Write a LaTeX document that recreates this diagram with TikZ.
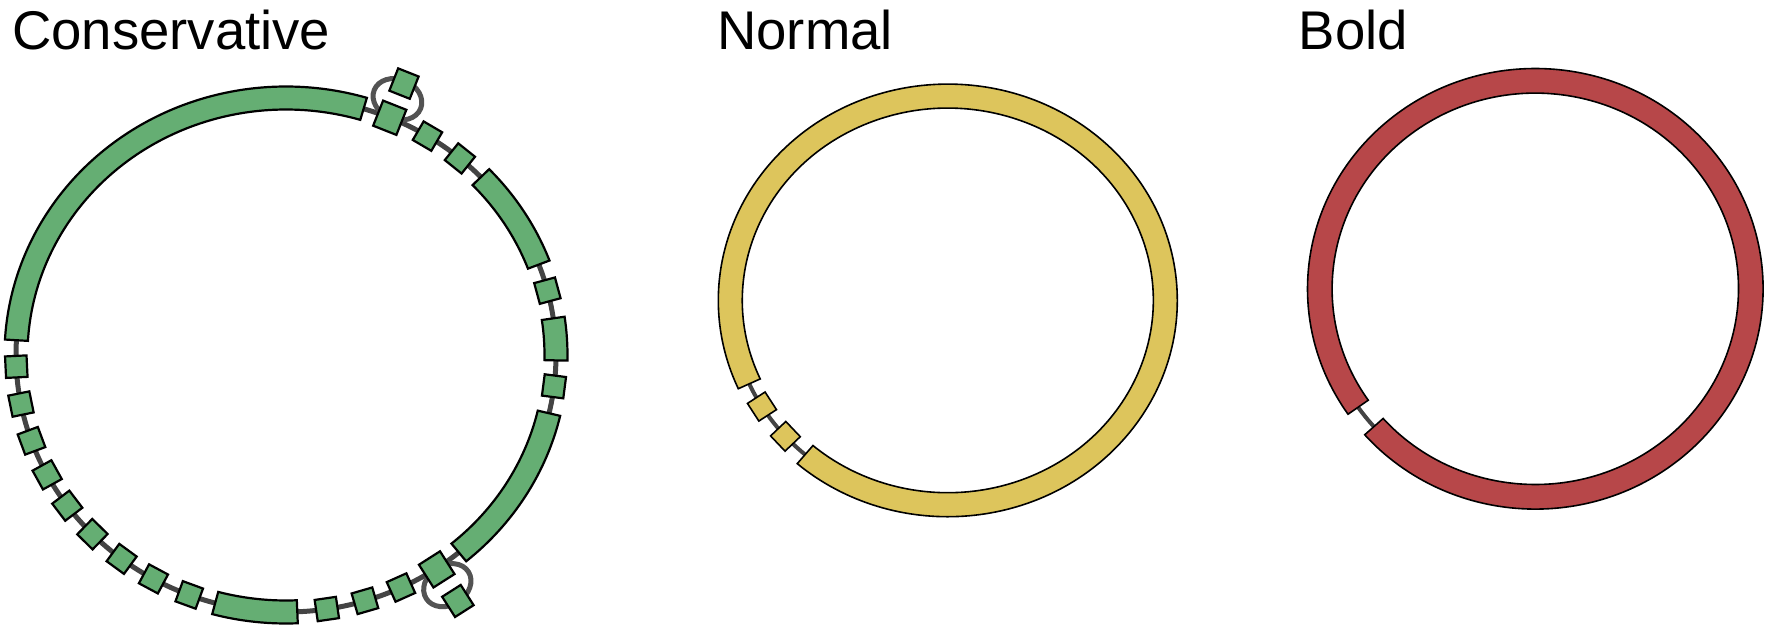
\documentclass[tikz,border=0pt]{standalone}
\usepackage{fontspec}
\setmainfont{Liberation Sans}
\usetikzlibrary{calc,shapes.geometric}
\definecolor{cgreen}{RGB}{101,174,115}
\definecolor{cyellow}{RGB}{221,197,92}
\definecolor{cred}{RGB}{183,71,73}
\definecolor{bbgray}{RGB}{68,68,68}
\tikzset{
  backbone/.style={draw=bbgray, line width=5pt},
  thinbackbone/.style={draw=bbgray, line width=4pt},
  loopline/.style={draw=bbgray!92!white, line width=5pt, ellipse, inner sep=0pt, minimum width=50pt, minimum height=40pt},
  gbox/.style={draw=black, line width=2.2pt, fill=cgreen, rectangle, inner sep=0pt, minimum width=21.5pt, minimum height=21.5pt},
  gboxL/.style={gbox, minimum width=25pt, minimum height=27pt},
  gboxO/.style={gbox, minimum width=22pt, minimum height=24pt},
  ybox/.style={draw=black, line width=1.6pt, fill=cyellow, rectangle, inner sep=0pt, minimum width=21pt, minimum height=21pt},
  gseg/.style={draw=black, line width=2.2pt, fill=cgreen},
  yseg/.style={draw=black, line width=1.6pt, fill=cyellow},
  rseg/.style={draw=black, line width=1.6pt, fill=cred},
  ttl/.style={anchor=base west, inner sep=0pt, font=\fontsize{54.5}{62}\selectfont},
}
% band segment: center, a, b, t1, t2, style, half thickness
\newcommand\band[7]{%
  \pgfmathsetmacro\myao{#2+#7}\pgfmathsetmacro\mybo{#3+#7}%
  \pgfmathsetmacro\myai{#2-#7}\pgfmathsetmacro\mybi{#3-#7}%
  \draw[#6] ($(#1)+(#4:\myao pt and \mybo pt)$)
    arc[start angle=#4, end angle=#5, x radius=\myao pt, y radius=\mybo pt]
    -- ($(#1)+(#5:\myai pt and \mybi pt)$)
    arc[start angle=#5, end angle=#4, x radius=\myai pt, y radius=\mybi pt] -- cycle;}
% box on ring: name, center, a, b, t, style, radial offset
\newcommand\ringbox[7]{%
  \pgfmathsetmacro\myrot{atan2((#4)*cos(#5), -(#3)*sin(#5))}%
  \pgfmathsetmacro\myra{#3+#7}\pgfmathsetmacro\myrb{#4+#7}%
  \node[#6, rotate=\myrot] (#1) at ($(#2)+(#5:\myra pt and \myrb pt)$) {};}
\begin{document}
\begin{tikzpicture}[x=1pt, y=1pt]
\useasboundingbox (0,0) rectangle (1769,-634);

% ---------- titles ----------
\node[ttl] (tC) at (12,-49) {Conservative};
\node[ttl] (tN) at (717,-49) {Normal};
\node[ttl] (tB) at (1298.5,-49) {Bold};

% ---------- Conservative ----------
\coordinate (C1) at (286,-355);
\draw[backbone] (C1) ellipse [x radius=270pt, y radius=257pt];
\ringbox{loopA}{C1}{270}{257}{67.4}{loopline}{20}
\ringbox{loopB}{C1}{270}{257}{-56.2}{loopline}{20}
\band{C1}{270}{257}{73.3}{176.7}{gseg}{11.5}
\band{C1}{270}{257}{20.6}{43.8}{gseg}{11.5}
\band{C1}{270}{257}{-1.2}{8.2}{gseg}{11.5}
\band{C1}{270}{257}{-50.2}{-13.1}{gseg}{11.5}
\band{C1}{270}{257}{-105.2}{-87.6}{gseg}{11.5}
\foreach \t [count=\i] in {58.4,49.9,14.5,-7.0,-64.8,-73.0,-81.3,-111.0,-119.4,-127.5,-135.8,-144.1,-152.2,-160.5,-169.0,-177.4}{
  \ringbox{cb\i}{C1}{270}{257}{\t}{gbox}{0}
}
\ringbox{loopAon}{C1}{270}{257}{67.4}{gboxL}{0}
\ringbox{loopAoff}{C1}{270}{257}{67.4}{gboxO}{37}
\ringbox{loopBon}{C1}{270}{257}{-56.2}{gboxL}{1}
\ringbox{loopBoff}{C1}{270}{257}{-56.2}{gboxO}{39}

% ---------- Normal ----------
\coordinate (C2) at (947.8,-300.4);
\draw[thinbackbone] (C2) ellipse [x radius=217.5pt, y radius=204.3pt];
\band{C2}{217.5}{204.3}{-131}{204.1}{yseg}{12}
\ringbox{nb1}{C2}{217.5}{204.3}{-148.7}{ybox}{0}
\ringbox{nb2}{C2}{217.5}{204.3}{-138.3}{ybox}{0}

% ---------- Bold ----------
\coordinate (C3) at (1535.3,-288.8);
\draw[thinbackbone] (C3) ellipse [x radius=215.5pt, y radius=208pt];
\band{C3}{215.5}{208}{-138.5}{214.7}{rseg}{12.3}
\end{tikzpicture}
\end{document}
